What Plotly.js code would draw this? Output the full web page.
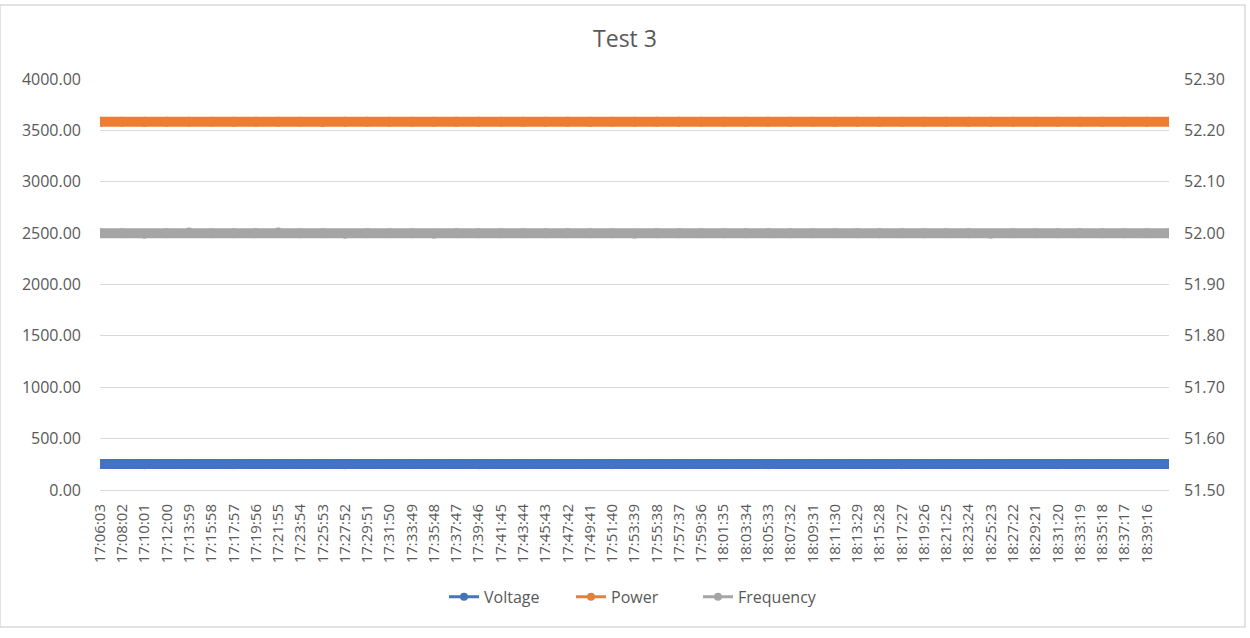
<!DOCTYPE html>
<html>
<head>
<meta charset="utf-8">
<script src="https://cdn.plot.ly/plotly-3.0.1.min.js"></script>
<style>html,body{margin:0;padding:0;background:#fff;}#chart{width:1250px;height:638px;}</style>
</head>
<body>
<div id="chart"></div>
<script>
// Sample times (one every 119 s, matching the category labels)
const times = [
 "17:06:03","17:08:02","17:10:01","17:12:00","17:13:59","17:15:58","17:17:57","17:19:56",
 "17:21:55","17:23:54","17:25:53","17:27:52","17:29:51","17:31:50","17:33:49","17:35:48",
 "17:37:47","17:39:46","17:41:45","17:43:44","17:45:43","17:47:42","17:49:41","17:51:40",
 "17:53:39","17:55:38","17:57:37","17:59:36","18:01:35","18:03:34","18:05:33","18:07:32",
 "18:09:31","18:11:30","18:13:29","18:15:28","18:17:27","18:19:26","18:21:25","18:23:24",
 "18:25:23","18:27:22","18:29:21","18:31:20","18:33:19","18:35:18","18:37:17","18:39:16",
 "18:41:15"
];
// Tick labels shown on the category axis
const tickLabels = times.slice(0, 48);

const voltage = [
 252,252,251,252,252,252,251,252,252,252,252,251,252,252,252,252,
 252,251,252,252,252,252,252,251,252,252,252,252,252,252,251,252,
 252,252,252,252,251,252,252,252,252,252,252,251,252,252,252,252,252
];
const power = [
 3585,3585,3583,3585,3584,3585,3583,3585,3585,3584,3582,3585,3584,3585,3585,3585,
 3585,3585,3585,3583,3584,3585,3583,3585,3585,3585,3585,3585,3585,3585,3585,3585,
 3584,3583,3585,3585,3585,3585,3585,3585,3585,3585,3585,3585,3585,3585,3585,3585,3585
];
const frequency = [
 52.000,52.000,51.999,52.000,52.001,52.000,52.000,52.000,52.001,52.000,52.000,51.999,
 52.000,52.000,52.000,51.999,52.000,52.000,52.000,52.000,52.000,52.000,52.000,52.000,
 51.999,52.000,52.000,52.000,52.000,52.000,52.000,52.000,52.000,52.000,52.000,52.000,
 52.000,52.000,52.000,52.000,51.999,52.000,52.000,52.000,52.000,52.000,52.000,52.000,52.000
];

const seriesNames = ["Voltage","Power","Frequency"];
const seriesColors = ["#4472C4","#ED7D31","#A5A5A5"];

const day = "2021-01-01 ";
const xs = times.map(t => day + t);
const tickvals = tickLabels.map(t => day + t);

const traces = [];
const ys = [voltage, power, frequency];
const axes = ["y","y","y2"];
for (let i = 0; i < 3; i++) {
  traces.push({
    x: xs, y: ys[i], yaxis: axes[i], type: "scatter", mode: "lines+markers",
    name: seriesNames[i], showlegend: false, hoverinfo: "x+y",
    line: {color: seriesColors[i], width: 10},
    marker: {color: seriesColors[i], size: 10}
  });
}
for (let i = 0; i < 3; i++) {
  traces.push({
    x: [null], y: [null], yaxis: axes[i], type: "scatter", mode: "lines+markers",
    name: seriesNames[i], showlegend: true,
    line: {color: seriesColors[i], width: 3},
    marker: {color: seriesColors[i], size: 8}
  });
}

const fontFam = "'Open Sans', 'Noto Sans', sans-serif";
const grey = "#595959";

const layout = {
  width: 1250, height: 638,
  paper_bgcolor: "#ffffff", plot_bgcolor: "#ffffff",
  margin: {l: 100, r: 81, t: 79, b: 148},
  font: {family: fontFam, size: 15, color: grey},
  title: {text: "Test 3", font: {family: fontFam, size: 23, color: grey},
          x: 0.5, xanchor: "center", y: 1 - 39/638, yanchor: "middle"},
  xaxis: {
    type: "date",
    range: [xs[0], xs[xs.length - 1]],
    tickmode: "array", tickvals: tickvals, ticktext: tickLabels,
    tickangle: -90, showgrid: false, zeroline: false,
    showline: false, ticks: "", tickfont: {size: 15, color: grey},
    ticklabelstandoff: 10
  },
  yaxis: {
    range: [0, 4000], dtick: 500, tick0: 0, tickformat: ".2f",
    showgrid: true, gridcolor: "#D9D9D9", gridwidth: 1,
    zeroline: true, zerolinecolor: "#D9D9D9", zerolinewidth: 1,
    showline: false, ticks: "", tickfont: {size: 16, color: grey},
    ticklabelstandoff: 18
  },
  yaxis2: {
    overlaying: "y", side: "right",
    range: [51.5, 52.3], dtick: 0.1, tick0: 51.5, tickformat: ".2f",
    showgrid: false, zeroline: false, showline: false, ticks: "",
    tickfont: {size: 16, color: grey}, ticklabelstandoff: 14
  },
  showlegend: true,
  legend: {orientation: "h", x: 0.5, xanchor: "center", y: -0.26, yanchor: "middle",
           font: {size: 16, color: grey}, entrywidth: 82, entrywidthmode: "pixels",
           itemwidth: 30, tracegroupgap: 0},
  shapes: [
    {type: "rect", xref: "paper", yref: "paper",
     x0: (0 - 100)/1069, x1: (1245 - 100)/1069,
     y0: (490 - 627)/411, y1: (490 - 5)/411,
     line: {color: "#D9D9D9", width: 1.5}, fillcolor: "rgba(0,0,0,0)", layer: "below"}
  ]
};

Plotly.newPlot("chart", traces, layout, {displayModeBar: false, responsive: false});
</script>
</body>
</html>
